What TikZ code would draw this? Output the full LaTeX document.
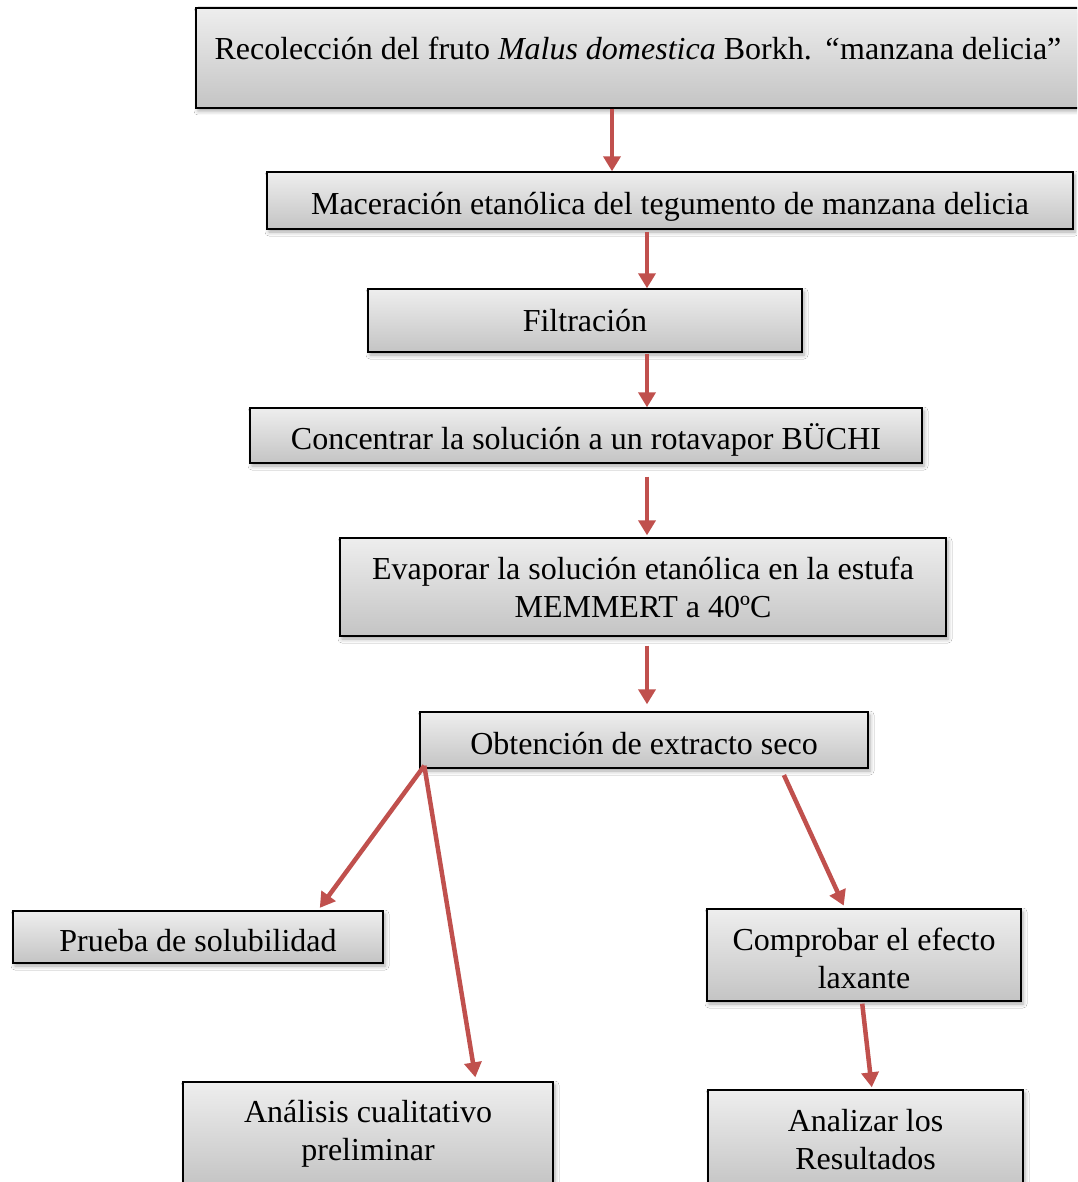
\documentclass[tikz,border=0pt]{standalone}
\usepackage{fontspec}
\setmainfont{Liberation Serif}
\usetikzlibrary{arrows.meta,shadows.blur}
\definecolor{boxtop}{RGB}{238,238,238}
\definecolor{boxbot}{RGB}{196,196,196}
\definecolor{arrred}{RGB}{192,80,77}
\tikzset{
  box/.style={draw=black, line width=1.4pt, rectangle, inner sep=0pt,
    top color=boxtop, bottom color=boxbot, align=center,
    font=\fontsize{32}{38}\selectfont,
    blur shadow={shadow xshift=2pt, shadow yshift=-3pt, shadow blur radius=4pt, shadow opacity=35}},
  oneline/.style={text height=28pt, text depth=0pt},
  arr/.style={draw=arrred, line width=4.5pt, -{Triangle[length=15pt,width=17pt]}}
}
\begin{document}
\begin{tikzpicture}[x=1pt,y=-1pt]
\clip (0,0) rectangle (1077,1182);
\fill[white] (0,0) rectangle (1077,1182);
\node[box, minimum width=884pt, minimum height=100pt, text depth=20pt] (b1) at (638,58)
  {Recolección del fruto \textit{Malus domestica} Borkh. \textit{“}manzana delicia”};
\node[box, oneline, minimum width=806pt, minimum height=57pt] (b2) at (670,200.5)
  {Maceración etanólica del tegumento de manzana delicia};
\node[box, minimum width=434pt, minimum height=63pt] (b3) at (585,320.5) {Filtración};
\node[box, oneline, minimum width=672pt, minimum height=55pt] (b4) at (586,435.5)
  {Concentrar la solución a un rotavapor BÜCHI};
\node[box, minimum width=606pt, minimum height=98pt] (b5) at (643,587)
  {Evaporar la solución etanólica en la estufa\\MEMMERT a 40ºC};
\node[box, oneline, minimum width=448pt, minimum height=56pt] (b6) at (644,740)
  {Obtención de extracto seco};
\node[box, oneline, minimum width=370pt, minimum height=52pt] (b7) at (198,937)
  {Prueba de solubilidad};
\node[box, minimum width=314pt, minimum height=92pt] (b8) at (864,955)
  {\rule{0pt}{29pt}Comprobar el efecto\\laxante};
\node[box, minimum width=370pt, minimum height=104pt] (b9) at (368,1134)
  {Análisis cualitativo\\preliminar};
\node[box, minimum width=315pt, minimum height=100pt] (b10) at (865.5,1140)
  {Analizar los\\Resultados};
\draw[arr] (b1.south -| 612,0) -- (b2.north -| 612,0);
\draw[arr, shorten <=2pt] (b2.south -| 647,0) -- (b3.north -| 647,0);
\draw[arr, shorten <=1pt] (b3.south -| 647,0) -- (b4.north -| 647,0);
\draw[arr, shorten <=13pt, shorten >=2pt] (b4.south -| 647,0) -- (b5.north -| 647,0);
\draw[arr, shorten <=9pt, shorten >=7pt] (b5.south -| 647,0) -- (b6.north -| 647,0);
\draw[arr, shorten >=3pt] ([shift={(5,-3)}]b6.south west) -- (b7.north -| 318,0);
\draw[arr, shorten >=4pt] ([shift={(5,-3)}]b6.south west) -- (b9.north -| 476,0);
\draw[arr, shorten <=7pt, shorten >=3pt] (b6.south -| 781,0) -- (b8.north -| 845,0);
\draw[arr, shorten <=2pt, shorten >=2pt] (b8.south -| 862,0) -- (b10.north -| 872,0);
\end{tikzpicture}
\end{document}
